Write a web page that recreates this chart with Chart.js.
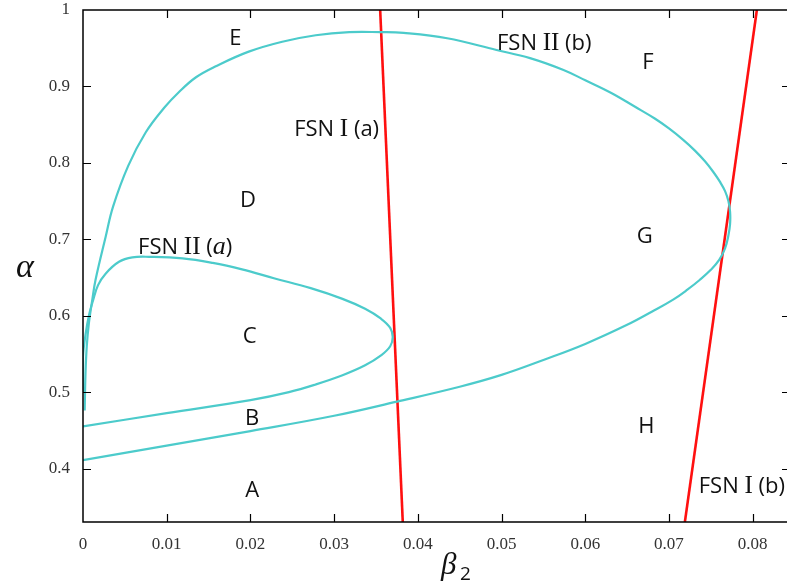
<!DOCTYPE html>
<html lang="en">
<head>
<meta charset="UTF-8">
<title>FSN bifurcation diagram</title>
<script src="https://cdn.jsdelivr.net/npm/chart.js"></script>
<style>
    html, body { margin: 0; padding: 0; background: #fff; }
    #wrap { width: 787px; height: 585px; }
</style>
</head>
<body>
<div id="wrap"><canvas id="chart" width="787" height="585"></canvas></div>
<script>
// tick values
const betaTicks = [0, 0.01, 0.02, 0.03, 0.04, 0.05, 0.06, 0.07, 0.08];
const alphaTicks = [0.4, 0.5, 0.6, 0.7, 0.8, 0.9, 1];

// FSN II (b): outer fold curve, lower branch -> nose -> upper branch -> down to beta=0
const fsn2bBeta = [0, 0.01, 0.02, 0.03, 0.0375, 0.045, 0.05, 0.055, 0.06, 0.065, 0.068, 0.0705,
    0.0722, 0.0737, 0.075, 0.076, 0.0767, 0.0771, 0.0773, 0.0773, 0.0771, 0.0767, 0.0761, 0.0753,
    0.0743, 0.0731, 0.0717, 0.07, 0.0683, 0.066, 0.063, 0.06, 0.0574, 0.0534, 0.0494, 0.0435,
    0.0383, 0.0355, 0.0318, 0.0278, 0.0238, 0.0198, 0.0158, 0.0135, 0.0115, 0.0097, 0.0075,
    0.0054, 0.0036, 0.0027, 0.0015, 0.0011, 0.0007, 0.00045, 0.0003, 0.0002];
const fsn2bAlpha = [0.411, 0.43, 0.449, 0.469, 0.4875, 0.507, 0.5225, 0.542, 0.563, 0.588, 0.6055, 0.621,
    0.634, 0.647, 0.66, 0.673, 0.688, 0.705, 0.72, 0.736, 0.75, 0.763, 0.775, 0.788,
    0.802, 0.816, 0.83, 0.845, 0.858, 0.873, 0.892, 0.908, 0.9215, 0.937, 0.9476, 0.963,
    0.97, 0.971, 0.971, 0.967, 0.9585, 0.9455, 0.926, 0.912, 0.893, 0.872, 0.84,
    0.796, 0.743, 0.703, 0.647, 0.62, 0.59, 0.56, 0.525, 0.476];

// FSN II (a): inner fold curve
const fsn2aBeta = [0, 0.01, 0.02, 0.0246, 0.0278, 0.031, 0.0337, 0.0356, 0.0367, 0.037, 0.0367,
    0.0356, 0.0337, 0.031, 0.0272, 0.0228, 0.019, 0.0155, 0.0119, 0.0079, 0.0059, 0.0043,
    0.0027, 0.0018, 0.0012, 0.0007, 0.0003, 0, 0];
const fsn2aAlpha = [0.455, 0.4725, 0.4895, 0.5, 0.51, 0.522, 0.535, 0.548, 0.56, 0.572, 0.584,
    0.596, 0.609, 0.622, 0.636, 0.649, 0.6605, 0.669, 0.675, 0.677, 0.6763, 0.6705,
    0.655, 0.64, 0.62, 0.6, 0.575, 0.546, 0.5];

// FSN I lines
const fsn1aBeta = [0.0355, 0.0382];
const fsn1aAlpha = [1.0, 0.33];
const fsn1bBeta = [0.0719, 0.0805];
const fsn1bAlpha = [0.33, 1.0];

// region / curve labels (data coordinates)
const labelText = ['E', 'FSN I (a)', 'D', 'FSN II (\u{1D44E})', 'FSN II (b)', 'F', 'G', 'C', 'B', 'A', 'H', 'FSN I (b)'];
const labelBeta = [0.0182, 0.0303, 0.0197, 0.0122, 0.0551, 0.0675, 0.0671, 0.0199, 0.0202, 0.0202, 0.0673, 0.0787];
const labelAlpha = [0.965, 0.8455, 0.7526, 0.6915, 0.9585, 0.9332, 0.7055, 0.5746, 0.4677, 0.373, 0.4568, 0.3783];

const cyan = '#4ccbcb';
const red = '#ff1010';

function pts(xs, ys) {
    return xs.map((x, i) => ({ x: x, y: ys[i] }));
}

const SANS = '"Open Sans", "Noto Sans", sans-serif';
const SERIF = '"Liberation Serif", "DejaVu Serif", serif';

// draw label text with serif "I" and italic math "a", like the original
function drawRich(ctx, text, cx, cy) {
    const runs = [];
    for (const ch of Array.from(text)) {
        let font = '22px ' + SANS, t = ch;
        if (ch === 'I') font = '25px ' + SERIF;
        if (ch === '\u{1D44E}') { font = 'italic 26px ' + SERIF; t = 'a'; }
        runs.push({ t: t, font: font });
    }
    let total = 0;
    runs.forEach(r => { ctx.font = r.font; r.w = ctx.measureText(r.t).width; total += r.w; });
    let x = cx - total / 2;
    ctx.textAlign = 'left';
    ctx.textBaseline = 'alphabetic';
    runs.forEach(r => {
        ctx.font = r.font;
        ctx.fillText(r.t, x, cy + 8);
        x += r.w;
    });
}

const decor = {
    id: 'decor',
    afterDatasetsDraw(chart) {
        const ctx = chart.ctx;
        const a = chart.chartArea;
        const xs = chart.scales.x, ys = chart.scales.y;
        ctx.save();
        // frame (left, bottom, top)
        ctx.strokeStyle = '#000';
        ctx.lineWidth = 1.5;
        ctx.beginPath();
        ctx.moveTo(a.right + 2, a.top);
        ctx.lineTo(a.left, a.top);
        ctx.lineTo(a.left, a.bottom);
        ctx.lineTo(a.right + 2, a.bottom);
        ctx.stroke();
        // inward tick marks
        ctx.lineWidth = 1.2;
        ctx.beginPath();
        betaTicks.slice(1).forEach(v => {
            const px = Math.round(xs.getPixelForValue(v)) + 0.5;
            ctx.moveTo(px, a.bottom); ctx.lineTo(px, a.bottom - 8);
            ctx.moveTo(px, a.top); ctx.lineTo(px, a.top + 8);
        });
        alphaTicks.slice(0, -1).forEach(v => {
            const py = Math.round(ys.getPixelForValue(v)) + 0.5;
            ctx.moveTo(a.left, py); ctx.lineTo(a.left + 8, py);
            ctx.moveTo(a.right + 2, py); ctx.lineTo(a.right - 5, py);
        });
        ctx.stroke();
        // labels
        ctx.fillStyle = '#111';
        labelText.forEach((t, i) => {
            drawRich(ctx, t, xs.getPixelForValue(labelBeta[i]), ys.getPixelForValue(labelAlpha[i]));
        });
        // axis titles
        ctx.fillStyle = '#111';
        ctx.textBaseline = 'alphabetic';
        ctx.textAlign = 'center';
        ctx.font = 'italic 34px ' + SERIF;
        ctx.fillText('\u03B1', 25, 277);
        ctx.textAlign = 'left';
        ctx.font = 'italic 31px ' + SERIF;
        ctx.fillText('\u03B2', 441, 574);
        ctx.font = '19px ' + SANS;
        ctx.fillText('2', 460, 580);
        ctx.restore();
    }
};

const lineStyle = (color, w) => ({
    showLine: true,
    borderColor: color,
    borderWidth: w,
    pointRadius: 0,
    fill: false
});

new Chart(document.getElementById('chart'), {
    type: 'scatter',
    data: {
        datasets: [
            Object.assign({ label: 'FSN II (b)', data: pts(fsn2bBeta, fsn2bAlpha), tension: 0.4 }, lineStyle(cyan, 2.2)),
            Object.assign({ label: 'FSN II (a)', data: pts(fsn2aBeta, fsn2aAlpha), tension: 0.4 }, lineStyle(cyan, 2.2)),
            Object.assign({ label: 'FSN I (a)', data: pts(fsn1aBeta, fsn1aAlpha) }, lineStyle(red, 2.6)),
            Object.assign({ label: 'FSN I (b)', data: pts(fsn1bBeta, fsn1bAlpha) }, lineStyle(red, 2.6))
        ]
    },
    options: {
        responsive: false,
        animation: false,
        layout: { padding: { top: 10, right: 0, left: 0, bottom: 0 } },
        plugins: { legend: { display: false }, tooltip: { enabled: false } },
        scales: {
            x: {
                type: 'linear',
                min: 0,
                max: 0.0841,
                grid: { display: false, drawTicks: false },
                border: { display: false },
                afterBuildTicks: s => { s.ticks = betaTicks.map(v => ({ value: v })); },
                afterFit: s => { s.height = 63; s.paddingLeft = 0; s.paddingRight = 0; },
                ticks: {
                    padding: 12,
                    color: '#333',
                    font: { family: 'Liberation Serif', size: 17 },
                    maxRotation: 0,
                    autoSkip: false,
                    callback: v => String(v)
                }
            },
            y: {
                type: 'linear',
                min: 0.33,
                max: 1,
                grid: { display: false, drawTicks: false },
                border: { display: false },
                afterBuildTicks: s => { s.ticks = alphaTicks.map(v => ({ value: v })); },
                afterFit: s => { s.width = 83; s.paddingTop = 0; s.paddingBottom = 0; },
                ticks: {
                    padding: 13,
                    crossAlign: 'near',
                    color: '#333',
                    font: { family: 'Liberation Serif', size: 17 },
                    autoSkip: false,
                    callback: v => String(v)
                }
            }
        }
    },
    plugins: [decor]
});
</script>
</body>
</html>
